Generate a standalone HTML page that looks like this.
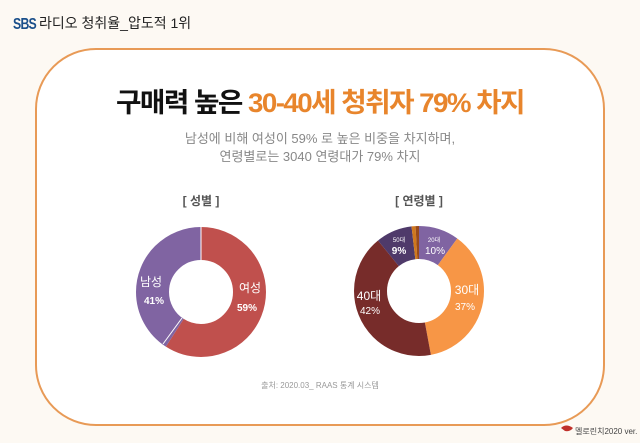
<!DOCTYPE html>
<html><head><meta charset="utf-8"><style>
html,body{margin:0;padding:0;background:#fdf9f3;}
body{width:640px;height:443px;position:relative;overflow:hidden;font-family:"Liberation Sans","Noto Sans CJK KR",sans-serif;}
</style></head><body>
<svg width="640" height="443" viewBox="0 0 640 443" xmlns="http://www.w3.org/2000/svg" style="position:absolute;left:0;top:0">
<rect x="0" y="0" width="640" height="443" fill="#fdf9f3"/>
<rect x="36" y="49" width="568" height="376" rx="60" ry="60" fill="#fff" stroke="#e89a56" stroke-width="2"/>
<text x="13" y="29" font-family="Liberation Sans Narrow, Liberation Sans, sans-serif" font-weight="bold" font-size="16" fill="#1a4f8a" letter-spacing="-1" textLength="23" lengthAdjust="spacingAndGlyphs">SBS</text>
<text x="39" y="28" font-family="Liberation Sans, Noto Sans CJK KR, sans-serif" font-size="14" fill="#222">라디오 청취율_압도적 1위</text>
<text x="320" y="112" text-anchor="middle" font-family="Liberation Sans, Noto Sans CJK KR, sans-serif" font-weight="bold" font-size="27" letter-spacing="-1.5" fill="#111" textLength="408" lengthAdjust="spacingAndGlyphs">구매력 높은 <tspan fill="#e8852c">30-40세  청취자 79% 차지</tspan></text>
<text x="320" y="143" text-anchor="middle" font-family="Liberation Sans, Noto Sans CJK KR, sans-serif" font-size="13" fill="#888">남성에 비해 여성이 59% 로 높은 비중을 차지하며,</text>
<text x="320" y="161" text-anchor="middle" font-family="Liberation Sans, Noto Sans CJK KR, sans-serif" font-size="13" fill="#888">연령별로는 3040 연령대가 79% 차지</text>
<text x="201" y="205" text-anchor="middle" font-family="Liberation Sans, Noto Sans CJK KR, sans-serif" font-weight="bold" font-size="12" fill="#555">[ 성별 ]</text>
<text x="419" y="205" text-anchor="middle" font-family="Liberation Sans, Noto Sans CJK KR, sans-serif" font-weight="bold" font-size="12" fill="#555">[ 연령별 ]</text>
<g transform="rotate(-90 201 292)" fill="none" stroke-width="33">
<circle cx="201" cy="292" r="48.5" stroke="#c0504d" stroke-dasharray="179.8 400" stroke-dashoffset="0"/>
<circle cx="201" cy="292" r="48.5" stroke="#8064a2" stroke-dasharray="124.9 400" stroke-dashoffset="-179.8"/>
</g>
<line x1="201" y1="227" x2="201" y2="260" stroke="#fff" stroke-width="1"/>
<line x1="182" y1="318" x2="163" y2="344" stroke="#fff" stroke-width="1"/>
<g transform="rotate(-90 419 291)" fill="none" stroke-width="33">
<circle cx="419" cy="291" r="48.5" stroke="#8064a2" stroke-dasharray="30.5 400" stroke-dashoffset="0"/>
<circle cx="419" cy="291" r="48.5" stroke="#f79646" stroke-dasharray="112.7 400" stroke-dashoffset="-30.5"/>
<circle cx="419" cy="291" r="48.5" stroke="#772c2a" stroke-dasharray="128 400" stroke-dashoffset="-143.2"/>
<circle cx="419" cy="291" r="48.5" stroke="#4f3a6a" stroke-dasharray="27.4 400" stroke-dashoffset="-271.2"/>
<circle cx="419" cy="291" r="48.5" stroke="#d0781e" stroke-dasharray="3 400" stroke-dashoffset="-298.6"/>
<circle cx="419" cy="291" r="48.5" stroke="#9a4a1a" stroke-dasharray="3.1 400" stroke-dashoffset="-301.6"/>
</g>
<g font-family="Liberation Sans, Noto Sans CJK KR, sans-serif" fill="#fff" text-anchor="middle">
<text x="250" y="292" font-size="12">여성</text>
<text x="247" y="311" font-size="10" font-weight="bold">59%</text>
<text x="151" y="286" font-size="12">남성</text>
<text x="154" y="304" font-size="10" font-weight="bold">41%</text>
<text x="434" y="242" font-size="6">20대</text>
<text x="435" y="254" font-size="10">10%</text>
<text x="467" y="294" font-size="12">30대</text>
<text x="465" y="310" font-size="10">37%</text>
<text x="369" y="300" font-size="12">40대</text>
<text x="370" y="314" font-size="10">42%</text>
<text x="399" y="242" font-size="6">50대</text>
<text x="399" y="254" font-size="10" font-weight="bold">9%</text>
</g>
<text x="320" y="388" text-anchor="middle" font-family="Liberation Sans, Noto Sans CJK KR, sans-serif" font-size="8" fill="#999">출처: 2020.03_ RAAS 통계 시스템</text>
<path d="M561 428 q5 -5 12 0 q-3 4 -8 3 z" fill="#c0302a"/>
<text x="575" y="434" font-family="Liberation Sans, Noto Sans CJK KR, sans-serif" font-size="8" fill="#444">멜로린치2020 ver.</text>
</svg>
</body></html>
